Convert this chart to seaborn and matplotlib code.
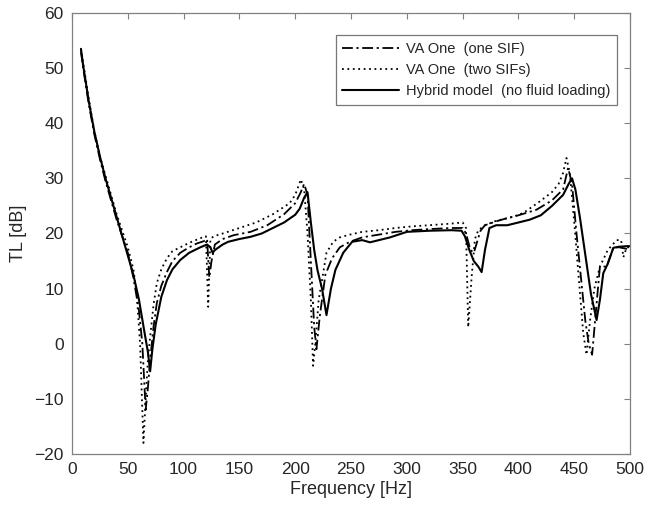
import numpy as np
import pandas as pd
import matplotlib
matplotlib.use("Agg")
import matplotlib.pyplot as plt
import seaborn as sns

# --- data (frequency in Hz, TL in dB) ---
freq_one_sif = [8, 10, 15, 20, 25, 30, 35, 40, 45, 50, 55, 60, 63, 66, 68, 70, 73, 76, 80, 85,
                90, 97, 105, 112, 118, 121, 123, 125, 128, 135, 145, 160, 175, 190, 200, 205,
                208, 211, 214, 217, 219, 222, 227, 233, 240, 249, 260, 275, 290, 305, 320, 340,
                350, 353, 357, 360, 363, 366, 370, 380, 390, 400, 416, 430, 440, 444.5, 448,
                452, 456, 460, 463, 466, 469, 473, 479, 485, 490, 495, 500]
tl_one_sif = [53, 50, 43.5, 38, 33.5, 29.5, 26, 22.5, 19.5, 16.5, 12, 6, 0, -12, -8, -3, 3, 7.4,
              10.5, 13, 15, 16.5, 17.5, 18.2, 18.6, 19, 12, 15, 18, 19, 19.7, 20.3, 21.5, 23.5,
              25.5, 27.5, 29, 27, 15, 3, -1, 5, 12.5, 15.5, 17.5, 18.5, 19.3, 19.8, 20.3, 20.6,
              20.8, 21, 21, 20, 17, 16.5, 18.5, 20.5, 21.5, 22.2, 22.8, 23.3, 24.3, 26, 28, 31.9,
              29, 20, 12, 4, 0, -2, 5, 14, 14, 17.4, 17.5, 17.3, 17]

freq_two_sif = [8, 10, 15, 20, 25, 30, 35, 40, 45, 50, 55, 58, 61, 64, 66, 68, 70, 73, 76, 80,
                85, 90, 97, 105, 112, 117, 120, 122, 124, 127, 135, 141, 150, 165, 180, 195, 200,
                205, 208, 211, 214, 216, 218, 221, 224, 228, 234, 240, 249, 260, 275, 290, 305,
                320, 340, 350, 353, 355, 358, 361, 364, 370, 380, 395, 405, 419, 430, 436, 440,
                443, 446, 450, 454, 458, 461, 464, 468, 473, 480, 488, 492, 494, 497, 500]
tl_two_sif = [53.5, 51, 44.5, 38.5, 34, 30.5, 27, 23.5, 20.5, 17.5, 13.5, 9, 0, -18, -10, -3, 1.2,
              7, 11, 13.5, 15.5, 16.8, 17.5, 18.3, 18.9, 19.3, 19.5, 6.7, 19, 19.5, 20, 20.4, 21,
              22, 23.5, 25.5, 27, 29.8, 28, 20, 8, -4, 0, 8, 11.5, 16.5, 18.5, 19.3, 19.8, 20.3,
              20.6, 21, 21.3, 21.5, 21.8, 22, 21, 3, 12, 19, 20.6, 21.5, 22.3, 23, 23.8, 25.8,
              27.5, 29, 31, 33.7, 31, 22, 12, 2, -2, 4, 10, 14, 17, 18.8, 18.8, 15.7, 17.5, 17.5]

freq_hybrid = [8, 10, 15, 20, 25, 30, 35, 40, 45, 50, 55, 60, 65, 68, 70, 72, 75, 80, 85, 90, 97,
               105, 115, 121, 124, 126, 128, 135, 140, 150, 160, 170, 180, 190, 200, 204, 208,
               211, 214, 217, 220, 224, 228, 232, 236, 243, 251, 260, 267, 275, 285, 300, 320,
               340, 349, 352, 356, 360, 364, 367, 370, 374, 380, 390, 400, 410, 420, 430, 440,
               445, 448, 451, 455, 460, 465, 470, 473, 476, 480, 485, 490, 497, 500]
tl_hybrid = [53.5, 50.5, 44, 38.5, 34, 30, 26.5, 23, 19.5, 16, 12.5, 8, 2, -1.5, -5, -1, 3.5, 8.5,
             11.5, 13.5, 15.2, 16.5, 17.5, 18, 17.5, 16.5, 17, 18, 18.5, 19, 19.4, 20, 21, 22,
             23.4, 24.5, 26.5, 27.5, 22, 17, 13.3, 10, 5.2, 10, 13.4, 16.5, 18.5, 18.8, 18.4,
             18.8, 19.3, 20.3, 20.5, 20.6, 20.5, 19.5, 17, 15, 14, 13, 17, 21, 21.5, 21.5, 22,
             22.5, 23.3, 25, 27, 29, 30, 28, 23, 16, 9, 4.3, 8, 12.8, 14.5, 17.4, 17.6, 17.7, 17.7]

labels = ["VA One  (one SIF)", "VA One  (two SIFs)", "Hybrid model  (no fluid loading)"]

# --- plot ---
sns.set_style("white")
plt.rcParams['font.family'] = ['Liberation Sans', 'DejaVu Sans']

fig = plt.figure(figsize=(6.57, 5.12), dpi=100)
ax = fig.add_axes([0.1096, 0.1133, 0.8494, 0.8613])

sns.lineplot(x=freq_one_sif, y=tl_one_sif, ax=ax, color='black', linewidth=1.3,
             linestyle=(0, (6, 2, 1.2, 2)), sort=False, label=labels[0])
sns.lineplot(x=freq_two_sif, y=tl_two_sif, ax=ax, color='black', linewidth=1.3,
             linestyle=(0, (1, 2)), sort=False, label=labels[1])
sns.lineplot(x=freq_hybrid, y=tl_hybrid, ax=ax, color='black', linewidth=1.5,
             linestyle='-', sort=False, label=labels[2])

ax.set_xlim(0, 500)
ax.set_ylim(-20, 60)
ax.set_xticks(np.arange(0, 501, 50))
ax.set_yticks(np.arange(-20, 61, 10))
ax.set_xlabel('Frequency [Hz]', fontsize=13, color='#262626', labelpad=3)
ax.set_ylabel('TL [dB]', fontsize=13, color='#262626', labelpad=5)
ax.tick_params(direction='in', length=4, width=0.8, color='#808080', labelsize=12.5,
               labelcolor='#262626', top=True, right=True, pad=6)
for sp in ax.spines.values():
    sp.set_color('#808080')
    sp.set_linewidth(0.9)

leg = ax.legend(loc='upper right', bbox_to_anchor=(0.977, 0.95), fontsize=10.5, frameon=True,
                fancybox=False, handlelength=3.9, borderpad=0.45, labelspacing=0.5,
                handletextpad=0.5, borderaxespad=0)
leg.get_frame().set_edgecolor('#555555')
leg.get_frame().set_linewidth(0.9)

plt.savefig('out.png', dpi=100)
